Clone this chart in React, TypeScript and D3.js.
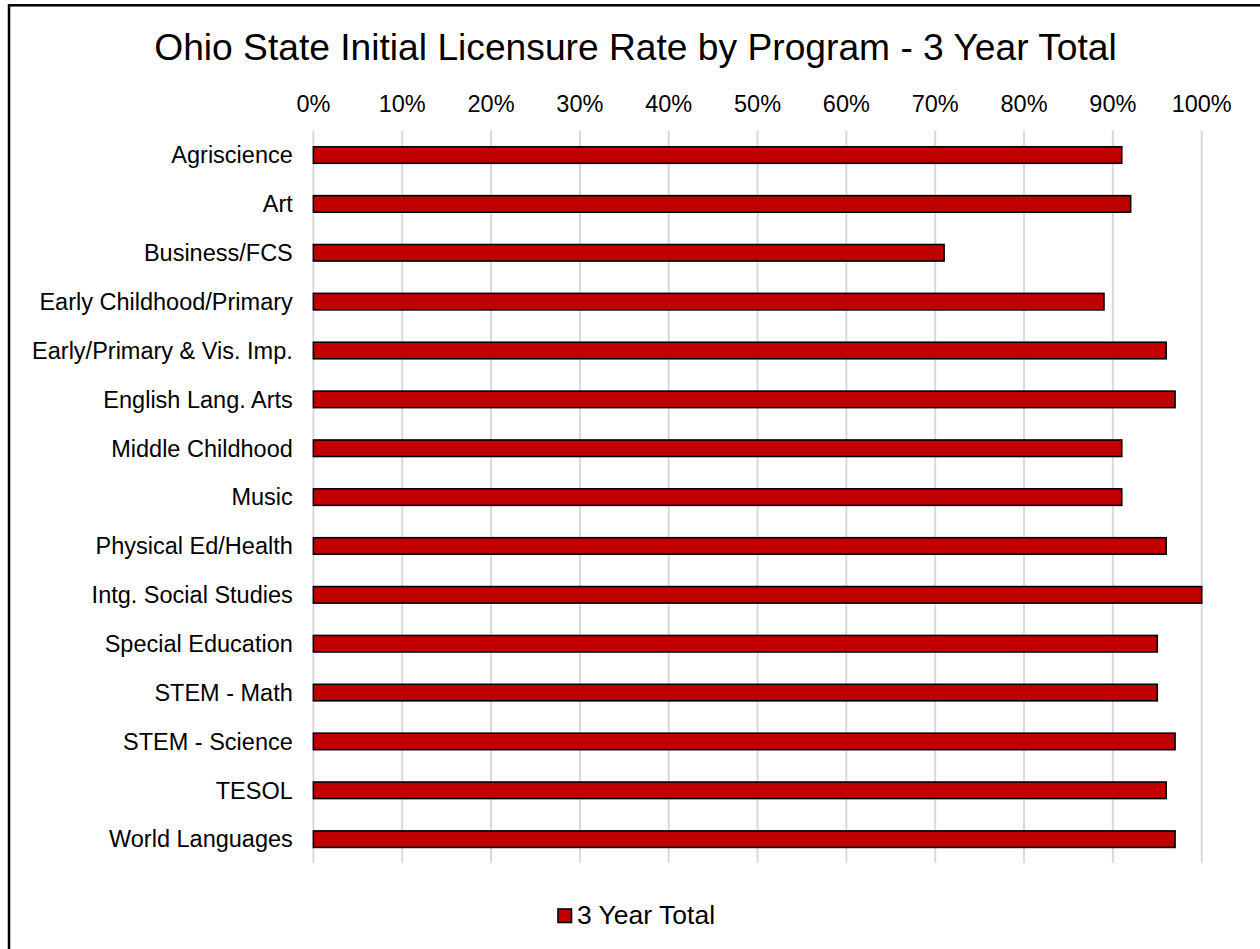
import React from "react";
import * as d3 from "d3";

const title = "Ohio State Initial Licensure Rate by Program - 3 Year Total";
const categories = [
  "Agriscience",
  "Art",
  "Business/FCS",
  "Early Childhood/Primary",
  "Early/Primary & Vis. Imp.",
  "English Lang. Arts",
  "Middle Childhood",
  "Music",
  "Physical Ed/Health",
  "Intg. Social Studies",
  "Special Education",
  "STEM - Math",
  "STEM - Science",
  "TESOL",
  "World Languages",
];
const seriesName = "3 Year Total";
const values = [0.91, 0.92, 0.71, 0.89, 0.96, 0.97, 0.91, 0.91, 0.96, 1.0, 0.95, 0.95, 0.97, 0.96, 0.97];
const tickValues = [0, 0.1, 0.2, 0.3, 0.4, 0.5, 0.6, 0.7, 0.8, 0.9, 1.0];

const W = 1260;
const H = 949;
const FONT = "'Liberation Sans', Arial, Helvetica, sans-serif";
const RED = "#c00000";

export default function App() {
  const x = d3.scaleLinear().domain([0, 1]).range([313.4, 1201.7]);
  const y = d3.scalePoint<string>().domain(categories).range([130.6, 863.6]).padding(0.5);
  const fmt = d3.format(".0%");
  const barH = 16.5;
  const gridTop = 130.5;
  const gridBottom = 863;

  return (
    <svg
      width={W}
      height={H}
      style={{ position: "fixed", left: 0, top: 0, display: "block", background: "#fff" }}
      fontFamily={FONT}
    >
      <rect x={0} y={0} width={W} height={H} fill="#fff" />
      {/* chart border */}
      <rect x={9} y={5.3} width={W + 20} height={H + 20} fill="none" stroke="#000" strokeWidth={2.5} />
      {/* title */}
      <text x={635.5} y={59.5} textAnchor="middle" fontSize={37.2} fill="#000">
        {title}
      </text>
      {/* gridlines */}
      {tickValues.map((t) => (
        <line
          key={"g" + t}
          x1={x(t)}
          x2={x(t)}
          y1={gridTop}
          y2={gridBottom}
          stroke="#d9d9d9"
          strokeWidth={2}
        />
      ))}
      {/* tick labels */}
      {tickValues.map((t) => (
        <text key={"t" + t} x={x(t)} y={111.7} textAnchor="middle" fontSize={23.5} fill="#000">
          {fmt(t)}
        </text>
      ))}
      {/* bars */}
      {categories.map((c, i) => (
        <rect
          key={"b" + c}
          x={x(0)}
          y={(y(c) as number) - barH / 2}
          width={x(values[i]) - x(0)}
          height={barH}
          fill={RED}
          stroke="#000"
          strokeWidth={1.6}
        />
      ))}
      {/* category labels */}
      {categories.map((c) => (
        <text
          key={"l" + c}
          x={292.8}
          y={(y(c) as number) + 8.3}
          textAnchor="end"
          fontSize={23.5}
          fill="#000"
        >
          {c}
        </text>
      ))}
      {/* legend */}
      <rect x={558} y={909} width={13.5} height={13.5} fill={RED} stroke="#000" strokeWidth={1.6} />
      <text x={577} y={924} fontSize={26.5} fill="#000">
        {seriesName}
      </text>
    </svg>
  );
}
